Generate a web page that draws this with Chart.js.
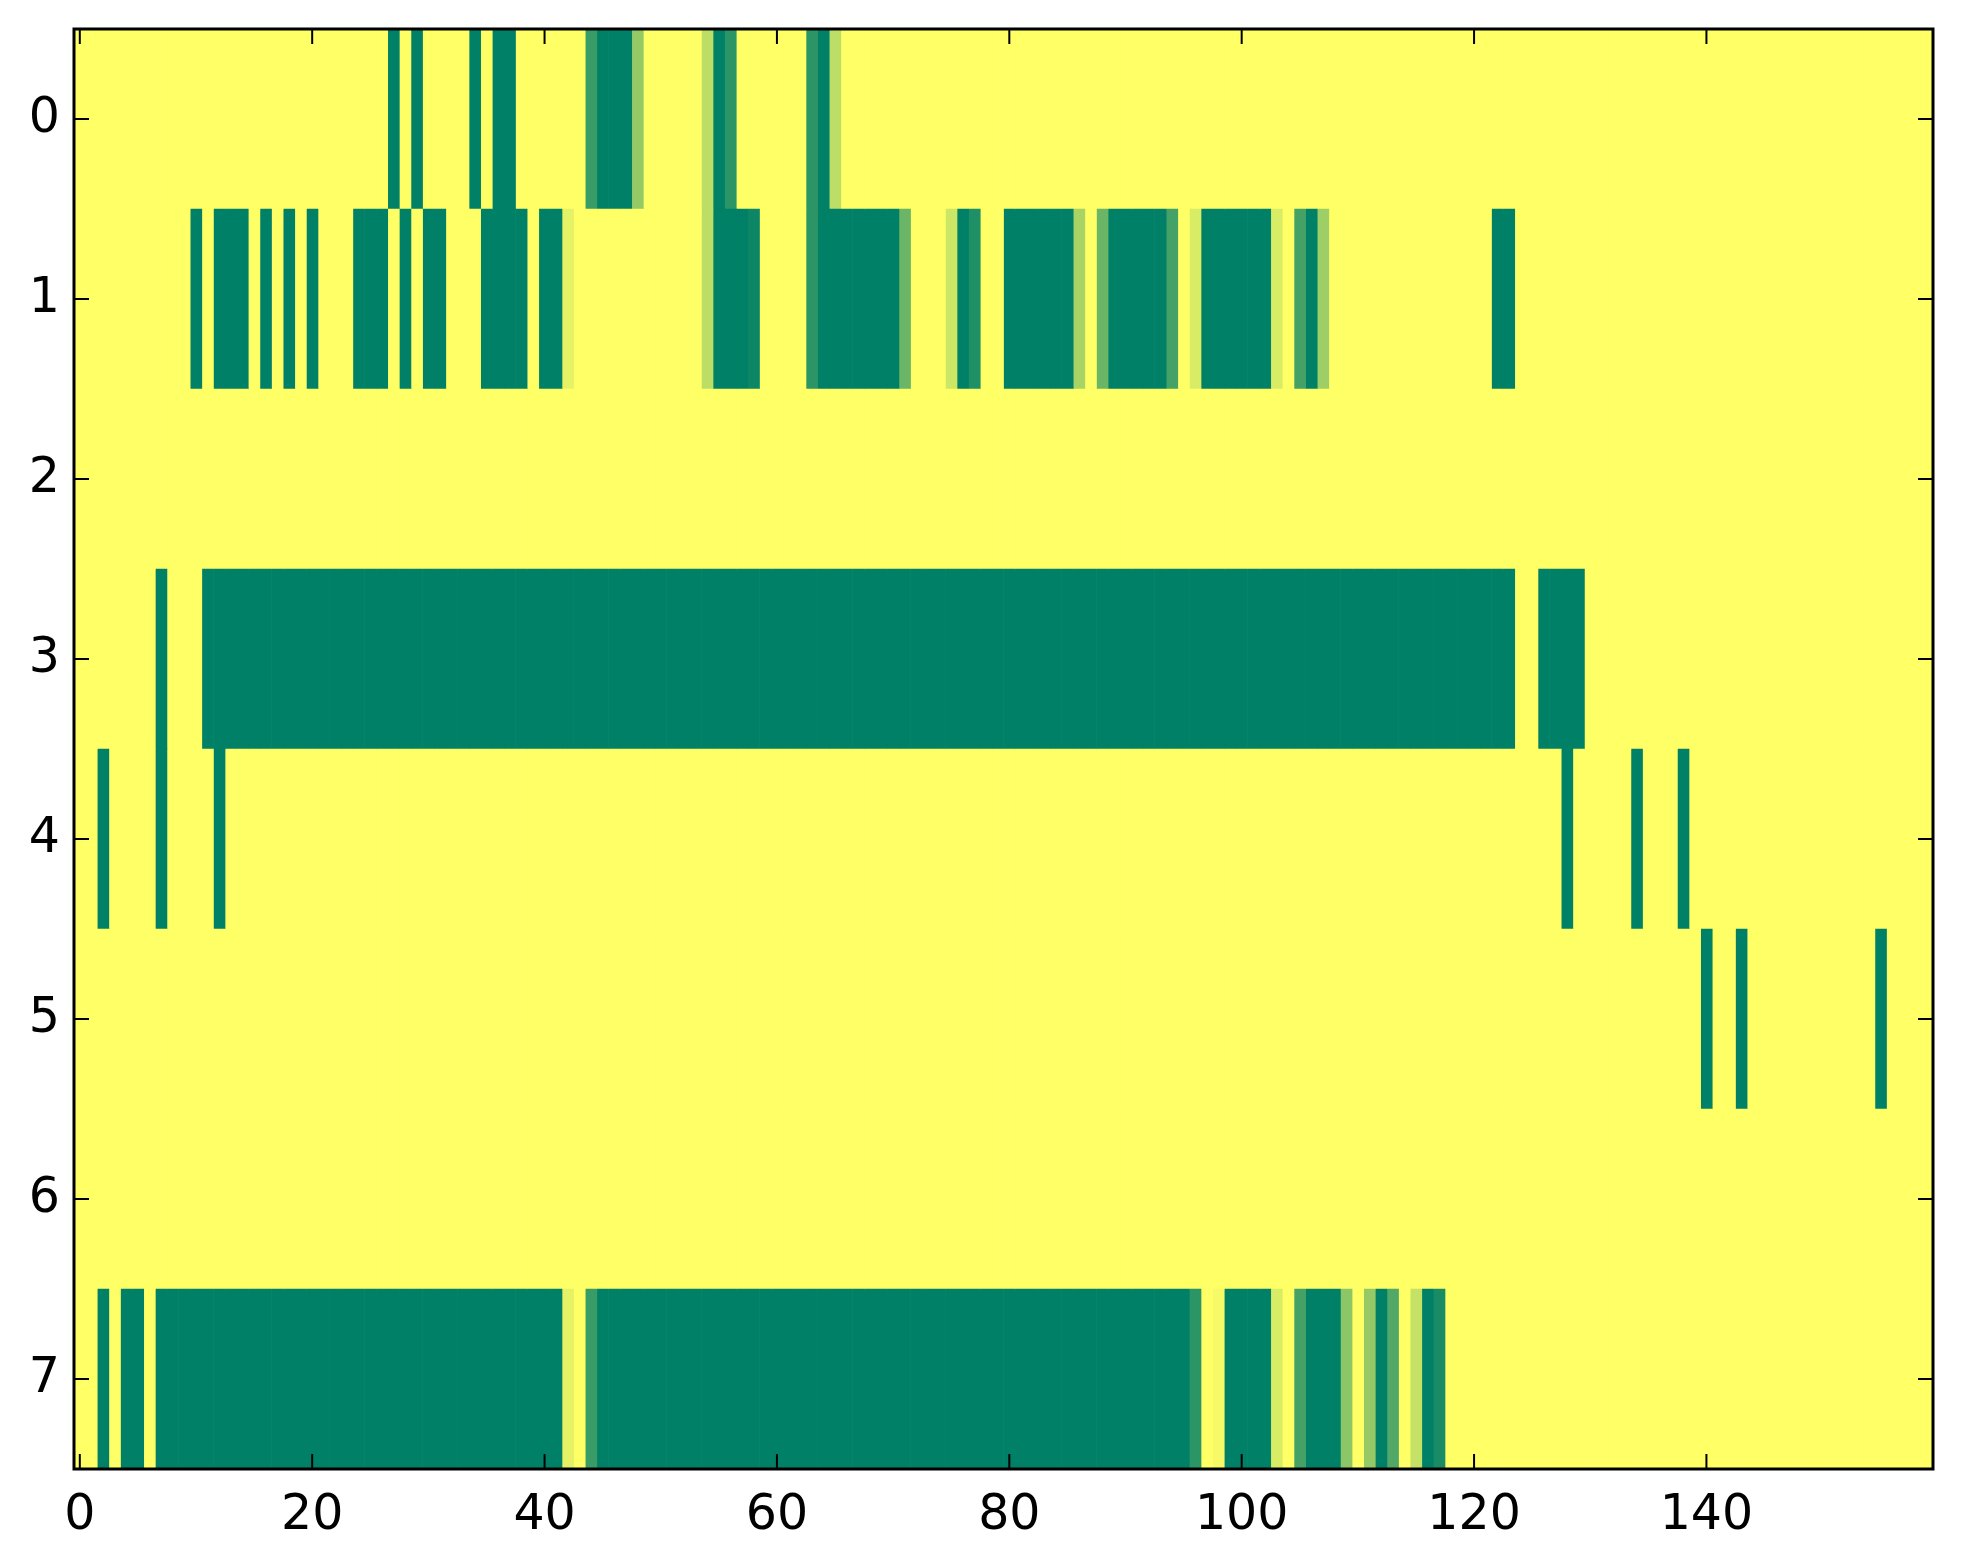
<!DOCTYPE html>
<html>
<head>
<meta charset="utf-8">
<script src="https://cdn.jsdelivr.net/npm/chart.js@4.4.1/dist/chart.umd.min.js"></script>
<style>
  html, body { margin: 0; padding: 0; background: #fff; }
  #wrap { width: 1963px; height: 1564px; position: relative; }
</style>
</head>
<body>
<div id="wrap"><canvas id="heat"></canvas></div>
<script>
// row labels (top to bottom) and x tick values
const rowLabels = ['0', '1', '2', '3', '4', '5', '6', '7'];
const xTicks = [0, 20, 40, 60, 80, 100, 120, 140];

// cell values per row, 160 columns each (0 = yellow, 1 = dark green)
const row0 = [
  0,0,0,0,0,0,0,0,0,0,0,0,0,0,0,0,0,0,0,0,
  0,0,0,0,0,0,0,1,0,1,0,0,0,0,1,0,1,1,0,0,
  0,0,0,0,.78,1,1,1,.42,0,0,0,0,0,.26,1,.83,0,0,0,
  0,0,0,.83,1,.26,0,0,0,0,0,0,0,0,0,0,0,0,0,0,
  0,0,0,0,0,0,0,0,0,0,0,0,0,0,0,0,0,0,0,0,
  0,0,0,0,0,0,0,0,0,0,0,0,0,0,0,0,0,0,0,0,
  0,0,0,0,0,0,0,0,0,0,0,0,0,0,0,0,0,0,0,0,
  0,0,0,0,0,0,0,0,0,0,0,0,0,0,0,0,0,0,0,0
];
const row1 = [
  0,0,0,0,0,0,0,0,0,0,1,0,1,1,1,0,1,0,1,0,
  1,0,0,0,1,1,1,0,1,0,1,1,0,0,0,1,1,1,1,0,
  1,1,.1,0,0,0,0,0,0,0,0,0,0,0,.26,1,1,1,.95,0,
  0,0,0,.83,1,1,1,1,1,1,1,.58,0,0,0,.2,1,.88,0,0,
  1,1,1,1,1,1,.34,0,.58,1,1,1,1,1,.73,0,.15,1,1,1,
  1,1,1,.15,0,.73,1,.38,0,0,0,0,0,0,0,0,0,0,0,0,
  0,0,1,1,0,0,0,0,0,0,0,0,0,0,0,0,0,0,0,0,
  0,0,0,0,0,0,0,0,0,0,0,0,0,0,0,0,0,0,0,0
];
const row2 = [
  0,0,0,0,0,0,0,0,0,0,0,0,0,0,0,0,0,0,0,0,
  0,0,0,0,0,0,0,0,0,0,0,0,0,0,0,0,0,0,0,0,
  0,0,0,0,0,0,0,0,0,0,0,0,0,0,0,0,0,0,0,0,
  0,0,0,0,0,0,0,0,0,0,0,0,0,0,0,0,0,0,0,0,
  0,0,0,0,0,0,0,0,0,0,0,0,0,0,0,0,0,0,0,0,
  0,0,0,0,0,0,0,0,0,0,0,0,0,0,0,0,0,0,0,0,
  0,0,0,0,0,0,0,0,0,0,0,0,0,0,0,0,0,0,0,0,
  0,0,0,0,0,0,0,0,0,0,0,0,0,0,0,0,0,0,0,0
];
const row3 = [
  0,0,0,0,0,0,0,1,0,0,0,1,1,1,1,1,1,1,1,1,
  1,1,1,1,1,1,1,1,1,1,1,1,1,1,1,1,1,1,1,1,
  1,1,1,1,1,1,1,1,1,1,1,1,1,1,1,1,1,1,1,1,
  1,1,1,1,1,1,1,1,1,1,1,1,1,1,1,1,1,1,1,1,
  1,1,1,1,1,1,1,1,1,1,1,1,1,1,1,1,1,1,1,1,
  1,1,1,1,1,1,1,1,1,1,1,1,1,1,1,1,1,1,1,1,
  1,1,1,1,0,0,1,1,1,1,0,0,0,0,0,0,0,0,0,0,
  0,0,0,0,0,0,0,0,0,0,0,0,0,0,0,0,0,0,0,0
];
const row4 = [
  0,0,1,0,0,0,0,1,0,0,0,0,1,0,0,0,0,0,0,0,
  0,0,0,0,0,0,0,0,0,0,0,0,0,0,0,0,0,0,0,0,
  0,0,0,0,0,0,0,0,0,0,0,0,0,0,0,0,0,0,0,0,
  0,0,0,0,0,0,0,0,0,0,0,0,0,0,0,0,0,0,0,0,
  0,0,0,0,0,0,0,0,0,0,0,0,0,0,0,0,0,0,0,0,
  0,0,0,0,0,0,0,0,0,0,0,0,0,0,0,0,0,0,0,0,
  0,0,0,0,0,0,0,0,1,0,0,0,0,0,1,0,0,0,1,0,
  0,0,0,0,0,0,0,0,0,0,0,0,0,0,0,0,0,0,0,0
];
const row5 = [
  0,0,0,0,0,0,0,0,0,0,0,0,0,0,0,0,0,0,0,0,
  0,0,0,0,0,0,0,0,0,0,0,0,0,0,0,0,0,0,0,0,
  0,0,0,0,0,0,0,0,0,0,0,0,0,0,0,0,0,0,0,0,
  0,0,0,0,0,0,0,0,0,0,0,0,0,0,0,0,0,0,0,0,
  0,0,0,0,0,0,0,0,0,0,0,0,0,0,0,0,0,0,0,0,
  0,0,0,0,0,0,0,0,0,0,0,0,0,0,0,0,0,0,0,0,
  0,0,0,0,0,0,0,0,0,0,0,0,0,0,0,0,0,0,0,0,
  1,0,0,1,0,0,0,0,0,0,0,0,0,0,0,1,0,0,0,0
];
const row6 = [
  0,0,0,0,0,0,0,0,0,0,0,0,0,0,0,0,0,0,0,0,
  0,0,0,0,0,0,0,0,0,0,0,0,0,0,0,0,0,0,0,0,
  0,0,0,0,0,0,0,0,0,0,0,0,0,0,0,0,0,0,0,0,
  0,0,0,0,0,0,0,0,0,0,0,0,0,0,0,0,0,0,0,0,
  0,0,0,0,0,0,0,0,0,0,0,0,0,0,0,0,0,0,0,0,
  0,0,0,0,0,0,0,0,0,0,0,0,0,0,0,0,0,0,0,0,
  0,0,0,0,0,0,0,0,0,0,0,0,0,0,0,0,0,0,0,0,
  0,0,0,0,0,0,0,0,0,0,0,0,0,0,0,0,0,0,0,0
];
const row7 = [
  0,0,1,0,1,1,0,1,1,1,1,1,1,1,1,1,1,1,1,1,
  1,1,1,1,1,1,1,1,1,1,1,1,1,1,1,1,1,1,1,1,
  1,1,.1,0,.78,1,1,1,1,1,1,1,1,1,1,1,1,1,1,1,
  1,1,1,1,1,1,1,1,1,1,1,1,1,1,1,1,1,1,1,1,
  1,1,1,1,1,1,1,1,1,1,1,1,1,1,1,1,.83,0,.04,1,
  1,1,1,.15,0,.73,1,1,1,.45,0,.42,1,.68,0,.23,1,.9,0,0,
  0,0,0,0,0,0,0,0,0,0,0,0,0,0,0,0,0,0,0,0,
  0,0,0,0,0,0,0,0,0,0,0,0,0,0,0,0,0,0,0,0
];

const rows = [row0, row1, row2, row3, row4, row5, row6, row7];

// reversed "summer" colour map: 0 -> yellow, 1 -> green
function summerR(v) {
  const r = Math.round(255 * (1 - v));
  const g = Math.round(255 * (1 - 0.5 * v));
  return 'rgb(' + r + ',' + g + ',102)';
}

// one dataset per column, each cell a floating bar one unit wide
const datasets = row0.map((_, col) => ({
  data: rows.map(() => [col - 0.5, col + 0.5]),
  backgroundColor: rows.map(r => summerR(r[col])),
  borderWidth: 0,
  grouped: false,
  barPercentage: 1,
  categoryPercentage: 1
}));

// matplotlib-like frame with inward ticks on all four sides
const frame = {
  id: 'frame',
  afterDraw(chart) {
    const { ctx, chartArea: a, scales: { x, y } } = chart;
    ctx.save();
    ctx.strokeStyle = '#000';
    ctx.lineWidth = 2;
    ctx.beginPath();
    x.ticks.forEach(t => {
      const px = x.getPixelForValue(t.value);
      ctx.moveTo(px, a.bottom); ctx.lineTo(px, a.bottom - 15);
      ctx.moveTo(px, a.top); ctx.lineTo(px, a.top + 15);
    });
    y.ticks.forEach((t, i) => {
      const py = y.getPixelForTick(i);
      ctx.moveTo(a.left, py); ctx.lineTo(a.left + 15, py);
      ctx.moveTo(a.right, py); ctx.lineTo(a.right - 15, py);
    });
    ctx.stroke();
    ctx.lineWidth = 3;
    ctx.strokeRect(a.left, a.top, a.right - a.left, a.bottom - a.top);
    ctx.restore();
  }
};

const font = { family: 'DejaVu Sans', size: 49 };

new Chart(document.getElementById('heat'), {
  type: 'bar',
  data: { labels: rowLabels, datasets: datasets },
  options: {
    indexAxis: 'y',
    responsive: true,
    maintainAspectRatio: false,
    animation: false,
    devicePixelRatio: 1,
    layout: { padding: { top: 29, right: 30, left: 0, bottom: 0 } },
    plugins: { legend: { display: false }, tooltip: { enabled: false } },
    scales: {
      x: {
        type: 'linear',
        min: -0.5,
        max: 159.5,
        grid: { display: false },
        border: { display: false },
        afterBuildTicks: s => { s.ticks = xTicks.map(v => ({ value: v })); },
        afterFit: s => { s.height = 95; s.paddingRight = 0; },
        ticks: { color: '#000', font: font, padding: 10, maxRotation: 0 }
      },
      y: {
        grid: { display: false },
        border: { display: false },
        afterFit: s => { s.width = 74; s.paddingTop = 0; s.paddingBottom = 0; },
        ticks: { color: '#000', font: font, padding: 6 }
      }
    }
  },
  plugins: [frame]
});
</script>
</body>
</html>
